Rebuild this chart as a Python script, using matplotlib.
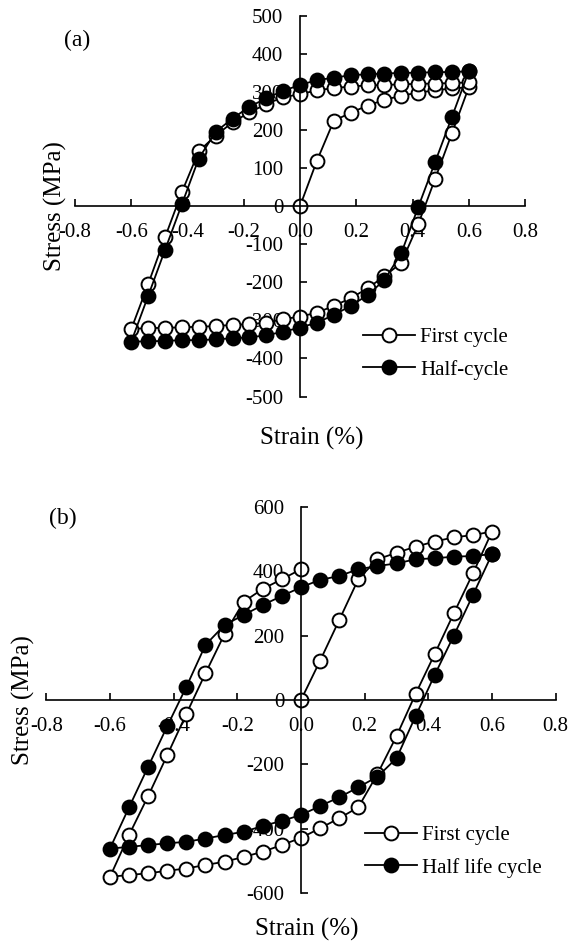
import numpy as np
import matplotlib
matplotlib.use("Agg")
import matplotlib.pyplot as plt
from matplotlib.ticker import FormatStrFormatter, MultipleLocator

plt.rcParams['font.family'] = ['Liberation Serif', 'DejaVu Serif']
plt.rcParams['axes.unicode_minus'] = False

# ---- (a) ----
a_first_strain = [0.0, 0.06, 0.12, 0.18, 0.24, 0.30, 0.36, 0.42, 0.48, 0.54, 0.60,
                  0.54, 0.48, 0.42, 0.36, 0.30, 0.24, 0.18, 0.12, 0.06, 0.0,
                  -0.06, -0.12, -0.18, -0.24, -0.30, -0.36, -0.42, -0.48, -0.54, -0.60,
                  -0.54, -0.48, -0.42, -0.36, -0.30, -0.24, -0.18, -0.12, -0.06, 0.0,
                  0.06, 0.12, 0.18, 0.24, 0.30, 0.36, 0.42, 0.48, 0.54, 0.60]
a_first_stress = [0, 119, 224, 245, 264, 279, 290, 298, 304, 309, 312,
                  191, 71, -48, -149, -184, -216, -242, -262, -280, -290,
                  -297, -306, -310, -312, -315, -317, -318, -320, -320, -323,
                  -205, -82, 37, 144, 185, 220, 246, 268, 286, 294,
                  304, 310, 314, 317, 318, 320, 321, 322, 323, 325]

a_half_strain = [0.60, 0.54, 0.48, 0.42, 0.36, 0.30, 0.24, 0.18, 0.12, 0.06, 0.0,
                 -0.06, -0.12, -0.18, -0.24, -0.30, -0.36, -0.42, -0.48, -0.54, -0.60,
                 -0.54, -0.48, -0.42, -0.36, -0.30, -0.24, -0.18, -0.12, -0.06, 0.0,
                 0.06, 0.12, 0.18, 0.24, 0.30, 0.36, 0.42, 0.48, 0.54, 0.60]
a_half_stress = [354, 234, 115, -3, -124, -194, -234, -262, -286, -306, -319,
                 -330, -339, -345, -347, -350, -352, -352, -354, -355, -356,
                 -236, -115, 5, 125, 195, 230, 261, 283, 303, 318,
                 331, 337, 344, 346, 348, 350, 350, 352, 352, 354]

# ---- (b) ----
b_first_strain = [0.0, 0.06, 0.12, 0.18, 0.24, 0.30, 0.36, 0.42, 0.48, 0.54, 0.60,
                  0.54, 0.48, 0.42, 0.36, 0.30, 0.24, 0.18, 0.12, 0.06, 0.0,
                  -0.06, -0.12, -0.18, -0.24, -0.30, -0.36, -0.42, -0.48, -0.54, -0.60,
                  -0.54, -0.48, -0.42, -0.36, -0.30, -0.24, -0.18, -0.12, -0.06, 0.0]
b_first_stress = [0, 122, 248, 375, 437, 457, 476, 492, 505, 512, 523,
                  393, 269, 143, 19, -112, -230, -333, -367, -398, -428,
                  -450, -471, -487, -502, -512, -523, -530, -538, -543, -549,
                  -419, -298, -171, -43, 83, 205, 305, 345, 375, 406]

b_half_strain = [0.60, 0.54, 0.48, 0.42, 0.36, 0.30, 0.24, 0.18, 0.12, 0.06, 0.0,
                 -0.06, -0.12, -0.18, -0.24, -0.30, -0.36, -0.42, -0.48, -0.54, -0.60,
                 -0.54, -0.48, -0.42, -0.36, -0.30, -0.24, -0.18, -0.12, -0.06, 0.0,
                 0.06, 0.12, 0.18, 0.24, 0.30, 0.36, 0.42, 0.48, 0.54, 0.60]
b_half_stress = [453, 326, 200, 78, -50, -181, -238, -271, -302, -329, -357,
                 -375, -391, -409, -419, -430, -440, -445, -450, -456, -461,
                 -333, -207, -81, 41, 171, 233, 264, 295, 323, 350,
                 373, 385, 406, 416, 424, 437, 440, 445, 447, 453]

fig = plt.figure(figsize=(5.70, 9.47), dpi=100)

def setup(ax, ylim, ystep):
    ax.set_xlim(-0.8, 0.8)
    ax.set_ylim(-ylim, ylim)
    for s in ['top', 'right']:
        ax.spines[s].set_visible(False)
    ax.spines['left'].set_position(('data', 0))
    ax.spines['bottom'].set_position(('data', 0))
    for s in ['left', 'bottom']:
        ax.spines[s].set_linewidth(1.2)
    ax.xaxis.set_major_locator(MultipleLocator(0.2))
    ax.yaxis.set_major_locator(MultipleLocator(ystep))
    ax.xaxis.set_major_formatter(FormatStrFormatter('%.1f'))
    ax.tick_params(direction='in', length=5, width=1.2, labelsize=15, pad=12)
    ax.set_xlabel('Strain (%)', fontsize=18)
    ax.set_ylabel('Stress (MPa)', fontsize=18)
    ax.xaxis.label.set_va('center')
    ax.yaxis.label.set_va('center')

ax1 = fig.add_axes([0.1316, 0.5813, 0.7895, 0.4021])
setup(ax1, 500, 100)
ax1.plot(a_first_strain, a_first_stress, '-o', color='black', mfc='white', mec='black',
         ms=10, lw=1.3, mew=1.4, clip_on=False, label='First cycle')
ax1.plot(a_half_strain, a_half_stress, '-o', color='black', mfc='black', mec='black',
         ms=10, lw=1.3, mew=1.4, clip_on=False, label='Half-cycle')
ax1.yaxis.set_label_coords(-0.044, 0.5)
ax1.xaxis.set_label_coords(0.527, -0.109)
ax1.text(0.004, 0.936, '(a)', transform=ax1.transAxes, fontsize=17, va='center', ha='center')
ax1.legend(loc='upper left', bbox_to_anchor=(0.637, 0.654), bbox_transform=fig.transFigure,
           frameon=False, fontsize=15, numpoints=1, handlelength=2.5, handletextpad=0.25,
           labelspacing=0.6, borderpad=0, borderaxespad=0)

ax2 = fig.add_axes([0.0812, 0.0567, 0.8937, 0.4082])
setup(ax2, 600, 200)
ax2.plot(b_first_strain, b_first_stress, '-o', color='black', mfc='white', mec='black',
         ms=10, lw=1.3, mew=1.4, clip_on=False, label='First cycle')
ax2.plot(b_half_strain, b_half_stress, '-o', color='black', mfc='black', mec='black',
         ms=10, lw=1.3, mew=1.4, clip_on=False, label='Half life cycle')
ax2.yaxis.set_label_coords(-0.045, 0.5)
ax2.xaxis.set_label_coords(0.512, -0.093)
ax2.text(0.033, 0.97, '(b)', transform=ax2.transAxes, fontsize=17, va='center', ha='center')
ax2.legend(loc='upper left', bbox_to_anchor=(0.640, 0.128), bbox_transform=fig.transFigure,
           frameon=False, fontsize=15, numpoints=1, handlelength=2.5, handletextpad=0.25,
           labelspacing=0.6, borderpad=0, borderaxespad=0)

fig.savefig('out.png', dpi=100)
